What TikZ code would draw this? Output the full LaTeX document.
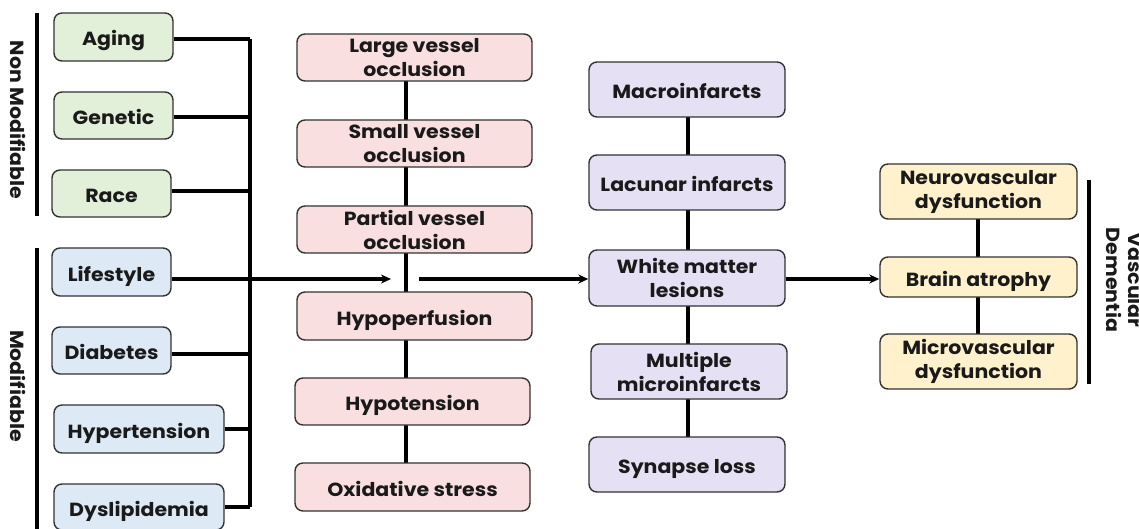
\documentclass[tikz,border=0pt]{standalone}
\usepackage{fontspec}
\setmainfont{Poppins}[FakeStretch=1.08]
\usetikzlibrary{arrows.meta}
\definecolor{gfill}{HTML}{E2EFD9}
\definecolor{bfill}{HTML}{DDEAF6}
\definecolor{pfill}{HTML}{F9DFDF}
\definecolor{vfill}{HTML}{E6E0F4}
\definecolor{yfill}{HTML}{FEF1CC}
\definecolor{edge}{HTML}{333333}
\definecolor{txt}{HTML}{1A1A1A}
\tikzset{
  box/.style={draw=edge, line width=1.4pt, rounded corners=8pt, align=center, inner sep=0pt,
    font=\bfseries\fontsize{19}{24}\selectfont, text=txt},
  one/.style={text height=18pt, text depth=0pt},
  gbox/.style={box, one, fill=gfill},
  bbox/.style={box, one, fill=bfill},
  pbox/.style={box, fill=pfill},
  vbox/.style={box, fill=vfill},
  ybox/.style={box, fill=yfill},
  wire/.style={line width=3.2pt, black},
  arr/.style={wire, -{Stealth[length=10pt,width=9pt]}},
  side/.style={font=\bfseries\fontsize{19}{22}\selectfont, text=txt, rotate=-90, align=center}
}
\begin{document}
\begin{tikzpicture}[x=1pt,y=-1pt]
\useasboundingbox (0,0) rectangle (1139,529);
\clip (0,0) rectangle (1139,529);
% bus and column lines first (behind boxes)
\coordinate (bt) at (250,39);
\coordinate (bb) at (250,507);
\draw[wire] (bt) -- (bb);
\coordinate (pt) at (406,60);
\coordinate (pb) at (406,480);
\draw[wire] (pt) -- (pb);
\coordinate (vt) at (688,95);
\coordinate (vb) at (688,460);
\draw[wire] (vt) -- (vb);
\coordinate (yt) at (978,195);
\coordinate (yb) at (978,360);
\draw[wire] (yt) -- (yb);
% left column
\node[gbox, minimum width=119pt, minimum height=48pt] (aging) at (113.5,37) {Aging};
\node[gbox, minimum width=119pt, minimum height=47pt] (genetic) at (113.5,115.5) {Genetic};
\node[gbox, minimum width=119pt, minimum height=47pt] (race) at (111.5,193.5) {Race};
\node[bbox, minimum width=119pt, minimum height=48pt] (life) at (111.5,272) {Lifestyle};
\node[bbox, minimum width=119pt, minimum height=47pt] (diab) at (111.5,350.5) {Diabetes};
\node[bbox, minimum width=170pt, minimum height=48pt] (hyper) at (139,429) {Hypertension};
\node[bbox, minimum width=170pt, minimum height=46pt] (dysl) at (139,507) {Dyslipidemia};
% side labels
\coordinate (nm1) at (37,13); \coordinate (nm2) at (37,216);
\coordinate (m1) at (37,248); \coordinate (m2) at (37,529);
\draw[line width=3.2pt] (nm1) -- (nm2);
\draw[line width=3.2pt] (m1) -- (m2);
\node[side] (nmlab) at (18,120) {Non Modifiable};
\node[side] (mlab) at (18,386) {Modifiable};
% feeders
\draw[wire] (aging.east |- bt) -- (bt);
\draw[wire] (genetic.east |- 0,117) -- (250,117);
\draw[wire] (race.east |- 0,191) -- (250,191);
\draw[wire] (diab.east |- 0,354) -- (250,354);
\draw[wire] (hyper.east |- 0,429) -- (250,429);
\draw[wire] (dysl.east |- bb) -- (bb);
% pink column
\node[pbox, minimum width=235pt, minimum height=47pt] (lvo) at (414.5,57.5) {Large vessel\\occlusion};
\node[pbox, minimum width=235pt, minimum height=47pt] (svo) at (414.5,143.5) {Small vessel\\occlusion};
\node[pbox, minimum width=235pt, minimum height=47pt] (pvo) at (414.5,229.5) {Partial vessel\\occlusion};
\node[pbox, one, minimum width=235pt, minimum height=48pt] (hypo) at (414.5,316) {Hypoperfusion};
\node[pbox, one, minimum width=235pt, minimum height=47pt] (hypot) at (412.5,401.5) {Hypotension};
\node[pbox, one, minimum width=235pt, minimum height=48pt] (oxi) at (412.5,487) {Oxidative stress};
% purple column
\node[vbox, one, minimum width=196pt, minimum height=55pt] (macro) at (687,89.5) {Macroinfarcts};
\node[vbox, one, minimum width=196pt, minimum height=55pt] (lac) at (687,182.5) {Lacunar infarcts};
\node[vbox, minimum width=196pt, minimum height=56pt] (wml) at (687,278) {White matter\\lesions};
\node[vbox, minimum width=196pt, minimum height=55pt] (multi) at (689,371.5) {Multiple\\microinfarcts};
\node[vbox, one, minimum width=196pt, minimum height=55pt] (syn) at (687,464.5) {Synapse loss};
% yellow column
\node[ybox, minimum width=197pt, minimum height=55pt] (neuro) at (978.5,191.5) {Neurovascular\\dysfunction};
\node[ybox, one, minimum width=197pt, minimum height=40pt] (atro) at (978.5,277) {Brain atrophy};
\node[ybox, minimum width=197pt, minimum height=55pt] (micro) at (978.5,361.5) {Microvascular\\dysfunction};
\coordinate (vd1) at (1089,180); \coordinate (vd2) at (1089,384);
\draw[line width=3.2pt] (vd1) -- (vd2);
\node[side] (vdlab) at (1124,280) {Vascular\\Dementia};
% arrows
\coordinate (a1) at (391,279);
\coordinate (a2s) at (419,279);
\coordinate (lj) at (250,279);
\draw[wire] (life.east |- lj) -- (lj);
\draw[arr] (lj) -- (a1);
\draw[arr] (a2s) -- (wml.west |- a2s);
\draw[arr] (wml.east |- a2s) -- (atro.west |- a2s);
\end{tikzpicture}
\end{document}
